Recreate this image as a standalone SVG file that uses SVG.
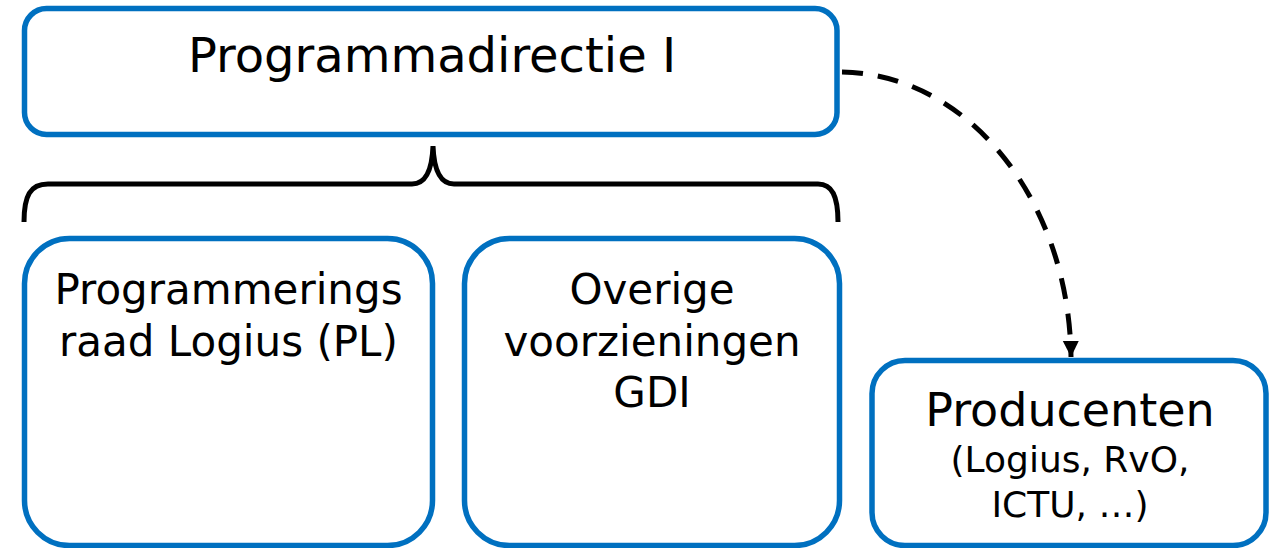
<svg xmlns="http://www.w3.org/2000/svg" width="1269" height="548" viewBox="0 0 1269 548">
<style>
.box{fill:#fff;stroke:#0070C0;stroke-width:5.5}
.t{font-family:"DejaVu Sans","Liberation Sans",sans-serif;fill:#000;text-anchor:middle}
.brace{fill:none;stroke:#000;stroke-width:5;stroke-linecap:butt}
.conn{fill:none;stroke:#000;stroke-width:5;stroke-dasharray:21 15}
</style>
<defs>
<marker id="ah" markerUnits="userSpaceOnUse" markerWidth="18" markerHeight="18" refX="16" refY="8" orient="auto">
<path d="M0,0 L16,8 L0,16 Z" fill="#000"/>
</marker>
</defs>
<g id="connectors">
<path class="conn" d="M842,72 C968,74 1069,200 1071,357" marker-end="url(#ah)"/>
<path class="brace" d="M24,222 C24,196 30,184 48,184 L412,184 C425,184 432,172 433,146 C434,172 441,184 454,184 L818,184 C832,184 838,196 838,222"/>
</g>
<g id="programmadirectie">
<rect class="box" x="24.5" y="8.5" width="812.5" height="126" rx="22"/>
<text class="t" x="432" y="72" font-size="48">Programmadirectie I</text>
</g>
<g id="programmeringsraad">
<rect class="box" x="24.5" y="238.5" width="408" height="307" rx="45"/>
<text class="t" x="228.5" y="304" font-size="42">Programmerings</text>
<text class="t" x="228.5" y="356" font-size="42">raad Logius (PL)</text>
</g>
<g id="overige">
<rect class="box" x="464.5" y="238.5" width="375" height="307" rx="45"/>
<text class="t" x="652" y="304" font-size="42">Overige</text>
<text class="t" x="652" y="356" font-size="42">voorzieningen</text>
<text class="t" x="652" y="407" font-size="42">GDI</text>
</g>
<g id="producenten">
<rect class="box" x="872" y="360.5" width="394" height="185" rx="33"/>
<text class="t" x="1070" y="426" font-size="46">Producenten</text>
<text class="t" x="1070" y="472" font-size="36">(Logius, RvO,</text>
<text class="t" x="1070" y="517" font-size="36">ICTU, …)</text>
</g>
</svg>
